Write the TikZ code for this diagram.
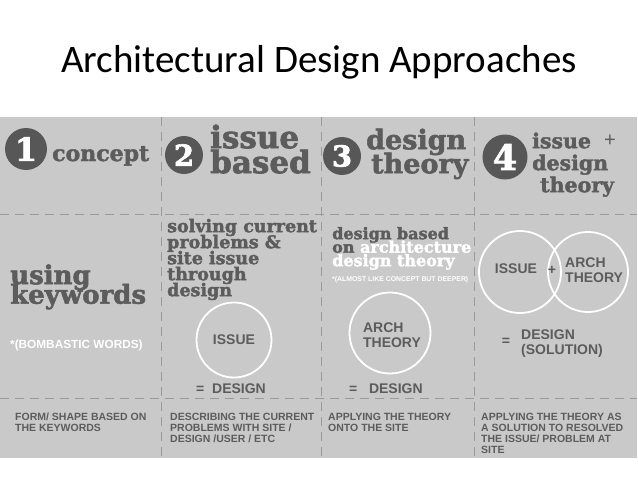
\documentclass[tikz,border=0pt]{standalone}
\usepackage{fontspec}
\setmainfont{Liberation Sans}
\newfontfamily\titlefont{Carlito}
\newfontfamily\slabfont[FakeBold=2]{DejaVu Serif}
\definecolor{panelgray}{HTML}{C9C9C9}
\definecolor{inkgray}{HTML}{5C5C5C}
\definecolor{discgray}{HTML}{575757}
\definecolor{dashgray}{HTML}{9A9A9A}
\newcommand{\slabsize}[2]{\slabfont\bfseries\fontsize{#1}{#2}\selectfont\lineskiplimit=-40pt\lineskip=0pt}
\tikzset{
  head/.style={font=\slabsize{27}{27}, text=inkgray, anchor=north west, inner sep=0pt, align=left},
  numdisc/.style={circle, fill=discgray, text=white, inner sep=0pt, font=\slabsize{32}{32}},
  ring/.style={circle, draw=white, line width=1.8pt, inner sep=0pt},
  caps/.style={font=\bfseries\fontsize{14}{15}\selectfont, text=inkgray, inner sep=0pt, align=left},
  foot/.style={font=\bfseries\fontsize{10.5}{11}\selectfont, text=inkgray, inner sep=0pt, anchor=north west, align=left},
  sep/.style={draw=dashgray, line width=0.8pt, dash pattern=on 9pt off 6pt},
}

\begin{document}
\begin{tikzpicture}[x=1pt,y=-1pt]
  %%%%% FRAME %%%%%
  \useasboundingbox (0,0) rectangle (638,479);
  \fill[white] (0,0) rectangle (638,479);
  \node[font=\titlefont\fontsize{39}{42}\selectfont, anchor=base, inner sep=0pt] (title) at (319,72) {Architectural Design Approaches};
  \fill[panelgray] (0,117) rectangle (637,458);

  % separators
  \foreach \xs in {161,321,474}
    \draw[sep] (\xs,117) -- (\xs,458);
  \draw[sep] (0,214) -- (637,214);
  \draw[sep] (0,398) -- (637,398);

  %%%%% HEADERS %%%%%
  \node[numdisc, minimum size=42pt] (num1) at (26,149) {1};
  \node[head, anchor=base west, font=\slabsize{22}{22}] (concept) at (52,161) {concept};

  \node[numdisc, minimum size=38pt, font=\slabsize{29}{29}] (num2) at (184,155) {2};
  \node[head, font=\slabsize{31}{25}] (issue2) at (210,124.4) {issue\\based};

  \node[numdisc, minimum size=38pt, font=\slabsize{29}{29}] (num3) at (342,156) {3};
  \node[head, font=\slabsize{27}{24}] (design3) at (366,128.5) {design\\\hspace{5pt}theory};

  \node[numdisc, minimum size=45pt, font=\slabsize{35}{35}] (num4) at (505,157) {4};
  \node[head, font=\slabsize{20.5}{22}] (issue4) at (532,132.4) {issue\\design\\\hspace{8pt}theory};
  \node[font=\fontsize{20}{20}\selectfont, text=inkgray, inner sep=0pt] (plus4) at (610,141) {+};

  %%%%% MIDDLE ROW %%%%%
  % 1 concept
  \node[head, font=\slabsize{26}{19.5}] (using) at (10,264.2) {using\\keywords};
  \node[font=\bfseries\fontsize{11.8}{12}\selectfont, text=white, inner sep=0pt, anchor=base west] (bombastic) at (10,348) {*(BOMBASTIC WORDS)};

  % 2 issue based
  \node[head, font=\slabsize{17.5}{16}] (solving) at (167,218.7) {solving current\\problems \&\\site issue\\through\\design};
  \node[ring, minimum size=75pt, caps] (issuering) at (234,340) {ISSUE};
  \node[caps, anchor=base west] (eqdesign2) at (196,393) {=\ \ DESIGN};

  % 3 design theory
  \node[head, font=\slabsize{16}{13.5}] (designbased) at (332,226.8) {design based\\on \textcolor{white}{architecture}\\\textcolor{white}{design theory}};
  \node[font=\bfseries\fontsize{6.9}{7}\selectfont, text=white, inner sep=0pt, anchor=base west] (almost) at (332,281) {*(ALMOST LIKE CONCEPT BUT DEEPER)};
  \node[ring, minimum size=81pt] (archring) at (390,333) {};
  \node[caps] (archtxt) at (392,335) {ARCH\\THEORY};
  \node[caps, anchor=base west] (eqdesign3) at (349,393) {=\ \ \ DESIGN};

  % 4 issue + design theory
  \node[ring, minimum size=82pt] (venna) at (520,272) {};
  \node[ring, minimum size=80pt] (vennb) at (588,272) {};
  \node[caps] (issue4txt) at (516,269) {ISSUE};
  \node[caps] (plusvenn) at (552,270) {+};
  \node[caps, anchor=west] (arch4txt) at (565,270.5) {ARCH\\THEORY};
  \node[caps] (eq4) at (506,342) {=};
  \node[caps, anchor=west] (solution) at (521,343.5) {DESIGN\\(SOLUTION)};

  %%%%% BOTTOM ROW %%%%%
  \node[foot] (foot1) at (15,412.5) {FORM/ SHAPE BASED ON\\THE KEYWORDS};
  \node[foot] (foot2) at (170,412.5) {DESCRIBING THE CURRENT\\PROBLEMS WITH SITE /\\DESIGN /USER / ETC};
  \node[foot] (foot3) at (328,412.5) {APPLYING THE THEORY\\ONTO THE SITE};
  \node[foot] (foot4) at (481,412.5) {APPLYING THE THEORY AS\\A SOLUTION TO RESOLVED\\THE ISSUE/ PROBLEM AT\\SITE};
\end{tikzpicture}
\end{document}
